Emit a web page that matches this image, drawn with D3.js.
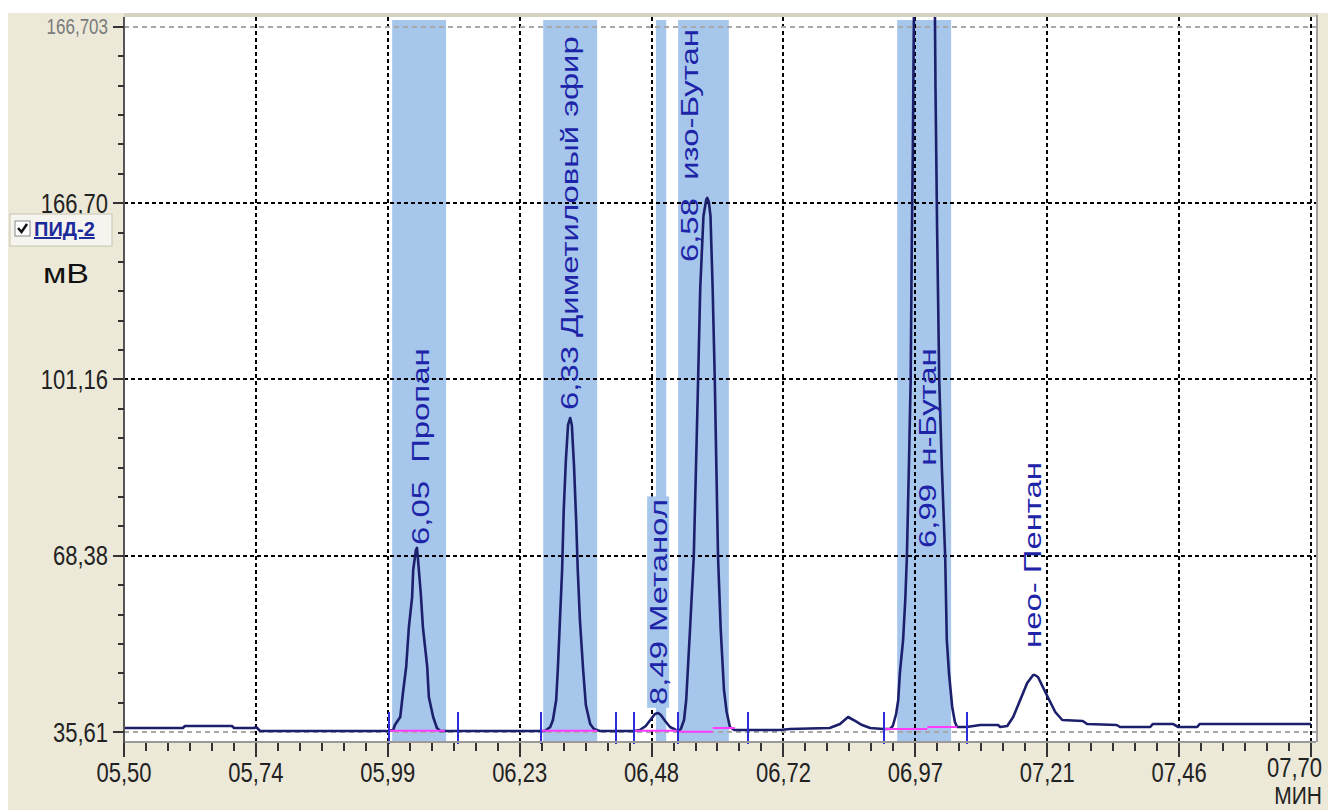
<!DOCTYPE html>
<html>
<head>
<meta charset="utf-8">
<script src="https://cdnjs.cloudflare.com/ajax/libs/d3/7.8.5/d3.min.js"></script>
<style>
  body { margin: 0; background: #fff; }
  text { font-family: "Liberation Sans", Arial, sans-serif; }
</style>
</head>
<body>
<div id="chart"></div>
<script>
// axis ticks (minutes / mV)
const xTickValues = [5.50, 5.7444, 5.9889, 6.2333, 6.4778, 6.7222, 6.9667, 7.2111, 7.4556, 7.70];
const xTickLabels = ["05,50", "05,74", "05,99", "06,23", "06,48", "06,72", "06,97", "07,21", "07,46", "07,70"];
const yTickValues = [35.61, 68.38, 101.16, 133.93];
const yTickLabels = ["35,61", "68,38", "101,16", "166,70"];
const yTopValue = 166.703;
const yTopLabel = "166,703";

// chromatogram trace
const traceTime = [
  5.500, 5.609, 5.613, 5.700, 5.704, 5.741, 5.745, 5.752, 5.989,
  5.999, 6.002, 6.012, 6.017, 6.023, 6.028, 6.034, 6.036, 6.041, 6.043, 6.045, 6.050, 6.054, 6.062, 6.065, 6.073, 6.080, 6.086,
  6.273, 6.280, 6.290, 6.295, 6.301, 6.304, 6.308, 6.312, 6.315, 6.319, 6.323, 6.327, 6.330, 6.334, 6.338, 6.341, 6.345, 6.351, 6.356, 6.364, 6.371, 6.382,
  6.445, 6.456, 6.467, 6.477, 6.484, 6.490, 6.495, 6.503, 6.512, 6.523,
  6.527, 6.532, 6.538, 6.542, 6.549, 6.556, 6.560, 6.564, 6.568, 6.574, 6.579, 6.581, 6.584, 6.587, 6.591, 6.595, 6.598, 6.601, 6.606, 6.612, 6.617, 6.623, 6.631, 6.642,
  6.716, 6.734, 6.808, 6.827, 6.842, 6.855, 6.868, 6.883, 6.907,
  6.920, 6.925, 6.931, 6.935, 6.938, 6.944, 6.948, 6.951, 6.955, 6.958, 6.960, 6.962, 6.964, 6.983,
  7.003, 7.004, 7.007, 7.011, 7.016, 7.022, 7.025, 7.029, 7.035, 7.040, 7.044, 7.053, 7.062,
  7.087, 7.120, 7.124, 7.137,
  7.148, 7.161, 7.174, 7.185, 7.188, 7.194, 7.203, 7.213, 7.226, 7.239, 7.277, 7.285,
  7.340, 7.346, 7.402, 7.407, 7.444, 7.454, 7.489, 7.494, 7.700
];
const traceMv = [
  36.35, 36.35, 36.73, 36.73, 36.35, 36.35, 36.54, 35.80, 35.80,
  35.98, 36.91, 38.40, 42.86, 47.70, 55.13, 60.71, 65.73, 69.45, 69.83, 67.59, 61.46, 55.13, 47.70, 42.12, 38.40, 36.35, 35.80,
  35.80, 35.80, 36.54, 37.84, 41.56, 47.14, 56.44, 65.73, 76.89, 86.19, 92.70, 94.00, 92.70, 85.26, 75.03, 65.73, 56.44, 47.14, 40.63, 37.10, 36.17, 35.80,
  35.80, 35.98, 36.73, 38.03, 38.96, 39.14, 38.77, 37.66, 36.54, 35.98,
  35.80, 36.17, 37.84, 41.56, 54.58, 68.15, 84.33, 100.88, 118.17, 131.56, 134.54, 134.91, 134.16, 131.56, 118.17, 100.88, 84.33, 68.15, 54.58, 43.42, 39.33, 36.54, 35.98, 35.98,
  35.98, 36.17, 36.35, 37.10, 38.40, 37.66, 36.91, 36.35, 36.17,
  36.17, 36.73, 38.96, 41.56, 46.58, 52.72, 60.16, 68.15, 86.19, 100.88, 125.24, 143.28, 168.75, 260.00,
  168.75, 155.73, 129.33, 100.88, 84.33, 68.15, 52.72, 46.58, 40.26, 37.47, 36.54, 36.54, 36.54,
  36.91, 36.91, 36.54, 36.73,
  38.40, 41.56, 44.72, 46.21, 46.21, 45.84, 43.98, 41.93, 39.33, 37.84, 37.66, 37.10,
  36.91, 36.54, 36.54, 37.10, 37.10, 36.54, 36.54, 37.10, 37.10
];

// highlighted peak windows
const bandStart = [5.997, 6.277, 6.486, 6.527, 6.933];
const bandEnd = [6.097, 6.377, 6.505, 6.621, 7.033];

// integration start/stop markers
const markerTimes = [5.991, 6.119, 6.273, 6.412, 6.445, 6.527, 6.657, 6.909, 7.062];

// drawn baselines under peaks: [t0, mV0, t1, mV1]
const baselineSegments = [
  [5.991, 35.85, 6.095, 35.85],
  [6.273, 35.85, 6.377, 35.85],
  [6.445, 35.85, 6.527, 35.85],
  [6.527, 35.65, 6.591, 35.65],
  [6.591, 36.35, 6.632, 36.35],
  [6.909, 36.17, 6.989, 36.17],
  [6.989, 36.54, 7.044, 36.54]
];

const peakLabels = ["6,05  Пропан", "6,33 Диметиловый эфир", "8,49 Метанол", "6,58  изо-Бутан", "6,99  н-Бутан", "нео- Пентан"];
const peakLabelTime = [6.049, 6.325, 6.490, 6.549, 6.990, 7.184];
const peakLabelMv = [70.38, 95.49, 40.63, 123.0, 69.83, 51.23];
const selectedLabel = 2;

const W = 1328, H = 810;
const plotLeft = 124, plotRight = 1316, plotTop = 17, plotBottom = 742;

const x = d3.scaleLinear().domain([5.50, 7.70]).range([124, 1311]);
const y = d3.scaleLinear().domain([35.61, yTopValue]).range([732, 27]);
const px = v => Math.round(v);

const svg = d3.select("#chart").append("svg")
  .attr("width", W)
  .attr("height", H);

// window background
svg.append("rect").attr("width", W).attr("height", H).attr("fill", "#ece9d8");
svg.append("rect").attr("width", W).attr("height", 13).attr("fill", "#fff");
svg.append("rect").attr("width", 8).attr("height", H).attr("fill", "#fff");

// plot frame
svg.append("rect")
  .attr("x", plotLeft).attr("y", plotTop - 4)
  .attr("width", plotRight - plotLeft + 2).attr("height", 4)
  .attr("fill", "#d6d2c2");
svg.append("rect")
  .attr("x", plotLeft).attr("y", plotTop)
  .attr("width", plotRight - plotLeft).attr("height", plotBottom - plotTop)
  .attr("fill", "#fff");
svg.append("line")
  .attr("x1", plotRight + 1).attr("x2", plotRight + 1)
  .attr("y1", plotTop - 2).attr("y2", plotBottom)
  .attr("stroke", "#a0a0a0").attr("stroke-width", 2);

svg.append("clipPath").attr("id", "plotClip")
  .append("rect")
  .attr("x", plotLeft).attr("y", plotTop)
  .attr("width", plotRight - plotLeft).attr("height", plotBottom - plotTop);

// peak windows
svg.append("g").selectAll("rect")
  .data(bandStart)
  .enter().append("rect")
  .attr("x", (d, i) => x(d))
  .attr("width", (d, i) => x(bandEnd[i]) - x(d))
  .attr("y", y(168.0))
  .attr("height", plotBottom - y(168.0))
  .attr("fill", "#a6c6ec");

// grid
const grid = svg.append("g").attr("shape-rendering", "crispEdges");
grid.selectAll(".vgrid")
  .data(xTickValues.slice(1))
  .enter().append("line")
  .attr("x1", d => px(x(d))).attr("x2", d => px(x(d)))
  .attr("y1", plotTop).attr("y2", plotBottom)
  .attr("stroke", "#000").attr("stroke-width", 2)
  .attr("stroke-dasharray", "4,3");
grid.selectAll(".hgrid")
  .data(yTickValues.slice(1))
  .enter().append("line")
  .attr("x1", plotLeft).attr("x2", plotRight)
  .attr("y1", d => px(y(d))).attr("y2", d => px(y(d)))
  .attr("stroke", "#000").attr("stroke-width", 2)
  .attr("stroke-dasharray", "4,3");
grid.selectAll(".ggrid")
  .data([yTickValues[0], yTopValue])
  .enter().append("line")
  .attr("x1", plotLeft).attr("x2", plotRight)
  .attr("y1", d => px(y(d))).attr("y2", d => px(y(d)))
  .attr("stroke", "#a8a8a8").attr("stroke-width", 2)
  .attr("stroke-dasharray", "5,4");

// trace
const trace = traceTime.map((t, i) => [t, traceMv[i]]);
const line = d3.line().x(d => x(d[0])).y(d => y(d[1]));
svg.append("path")
  .datum(trace)
  .attr("clip-path", "url(#plotClip)")
  .attr("fill", "none")
  .attr("stroke", "#1b1f6c")
  .attr("stroke-width", 2.6)
  .attr("stroke-linejoin", "round")
  .attr("d", line);

// peak baselines
svg.append("g").selectAll("line")
  .data(baselineSegments)
  .enter().append("line")
  .attr("x1", d => x(d[0])).attr("y1", d => y(d[1]))
  .attr("x2", d => x(d[2])).attr("y2", d => y(d[3]))
  .attr("stroke", "#ff3cff").attr("stroke-width", 2);

// integration markers
svg.append("g").attr("shape-rendering", "crispEdges").selectAll("line")
  .data(markerTimes)
  .enter().append("line")
  .attr("x1", d => px(x(d))).attr("x2", d => px(x(d)))
  .attr("y1", y(39.4)).attr("y2", y(33.4))
  .attr("stroke", "#2c2cd8").attr("stroke-width", 2);

// axes
const axes = svg.append("g").attr("shape-rendering", "crispEdges");
axes.append("line")
  .attr("x1", plotLeft).attr("x2", plotRight)
  .attr("y1", plotBottom).attr("y2", plotBottom)
  .attr("stroke", "#9a9a9a").attr("stroke-width", 2);
axes.append("line")
  .attr("x1", plotLeft).attr("x2", plotLeft)
  .attr("y1", plotTop).attr("y2", 757)
  .attr("stroke", "#555").attr("stroke-width", 2);

const xMinor = [];
for (let i = 0; i < xTickValues.length - 1; i++) {
  const step = (xTickValues[i + 1] - xTickValues[i]) / 6;
  for (let k = 1; k < 6; k++) xMinor.push(xTickValues[i] + k * step);
}
axes.selectAll(".xminor")
  .data(xMinor)
  .enter().append("line")
  .attr("x1", d => px(x(d))).attr("x2", d => px(x(d)))
  .attr("y1", plotBottom + 1).attr("y2", plotBottom + 9)
  .attr("stroke", "#333").attr("stroke-width", 2);
axes.selectAll(".xmajor")
  .data(xTickValues)
  .enter().append("line")
  .attr("x1", d => px(x(d))).attr("x2", d => px(x(d)))
  .attr("y1", plotBottom + 1).attr("y2", plotBottom + 15)
  .attr("stroke", "#333").attr("stroke-width", 2);
svg.append("g").selectAll("text")
  .data(xTickValues)
  .enter().append("text")
  .attr("transform", (d, i) => i === xTickValues.length - 1
    ? `translate(1322,767) scale(1,1.25)`
    : `translate(${x(d)},772) scale(1,1.25)`)
  .attr("text-anchor", (d, i) => i === xTickValues.length - 1 ? "end" : "middle")
  .attr("dy", "0.35em")
  .style("font-size", "22px")
  .style("fill", "#222")
  .text((d, i) => xTickLabels[i]);

const yAll = yTickValues.concat([yTopValue]);
const yMinor = [];
for (let i = 0; i < yAll.length - 1; i++) {
  const step = (yAll[i + 1] - yAll[i]) / 6;
  for (let k = 1; k < 6; k++) yMinor.push(yAll[i] + k * step);
}
axes.selectAll(".yminor")
  .data(yMinor)
  .enter().append("line")
  .attr("x1", plotLeft - 6).attr("x2", plotLeft)
  .attr("y1", d => px(y(d))).attr("y2", d => px(y(d)))
  .attr("stroke", "#333").attr("stroke-width", 2);
axes.selectAll(".ymajor")
  .data(yAll)
  .enter().append("line")
  .attr("x1", plotLeft - 11).attr("x2", plotLeft)
  .attr("y1", d => px(y(d))).attr("y2", d => px(y(d)))
  .attr("stroke", "#333").attr("stroke-width", 2);
svg.append("g").selectAll("text")
  .data(yTickValues)
  .enter().append("text")
  .attr("transform", d => `translate(108,${y(d)}) scale(1,1.25)`)
  .attr("text-anchor", "end")
  .attr("dy", "0.35em")
  .style("font-size", "22px")
  .style("fill", "#222")
  .text((d, i) => yTickLabels[i]);
svg.append("text")
  .attr("transform", `translate(108,${y(yTopValue)}) scale(1,1.25)`)
  .attr("text-anchor", "end")
  .attr("dy", "0.35em")
  .style("font-size", "17px")
  .style("fill", "#7a7a7a")
  .text(yTopLabel);

// channel selector and units
svg.append("rect")
  .attr("x", 10).attr("y", 214).attr("width", 102).attr("height", 32)
  .attr("fill", "#f5f4ee").attr("stroke", "#c9c5b2");
svg.append("rect")
  .attr("x", 15).attr("y", 221).attr("width", 15).attr("height", 15)
  .attr("fill", "#fff").attr("stroke", "#888");
svg.append("path")
  .attr("d", "M18,228 L21.5,232 L27,224")
  .attr("fill", "none").attr("stroke", "#111").attr("stroke-width", 2.5);
svg.append("text")
  .attr("x", 34).attr("y", 236)
  .style("font-size", "20px").style("font-weight", "bold")
  .style("fill", "#1c2a9c").style("text-decoration", "underline")
  .text("ПИД-2");
svg.append("text")
  .attr("x", 43).attr("y", 283)
  .attr("textLength", 46).attr("lengthAdjust", "spacingAndGlyphs")
  .style("font-size", "28px").style("fill", "#111")
  .text("мВ");
svg.append("text")
  .attr("transform", "translate(1322,804) scale(1,1.1)")
  .attr("text-anchor", "end")
  .style("font-size", "21px").style("fill", "#222")
  .text("МИН");

// peak labels
peakLabels.forEach((txt, i) => {
  const g = svg.append("g")
    .attr("transform", `translate(${x(peakLabelTime[i])},${y(peakLabelMv[i])}) rotate(-90) scale(1.37,1)`);
  const t = g.append("text")
    .attr("dy", "0.35em")
    .style("font-size", "24px")
    .style("fill", "#1d24a8")
    .style("white-space", "pre")
    .text(txt);
  if (i === selectedLabel) {
    const bb = t.node().getBBox();
    g.insert("rect", "text")
      .attr("x", bb.x - 2).attr("width", bb.width + 4)
      .attr("y", -11).attr("height", 22)
      .attr("fill", "#a6c6ec");
  }
});
</script>
</body>
</html>
